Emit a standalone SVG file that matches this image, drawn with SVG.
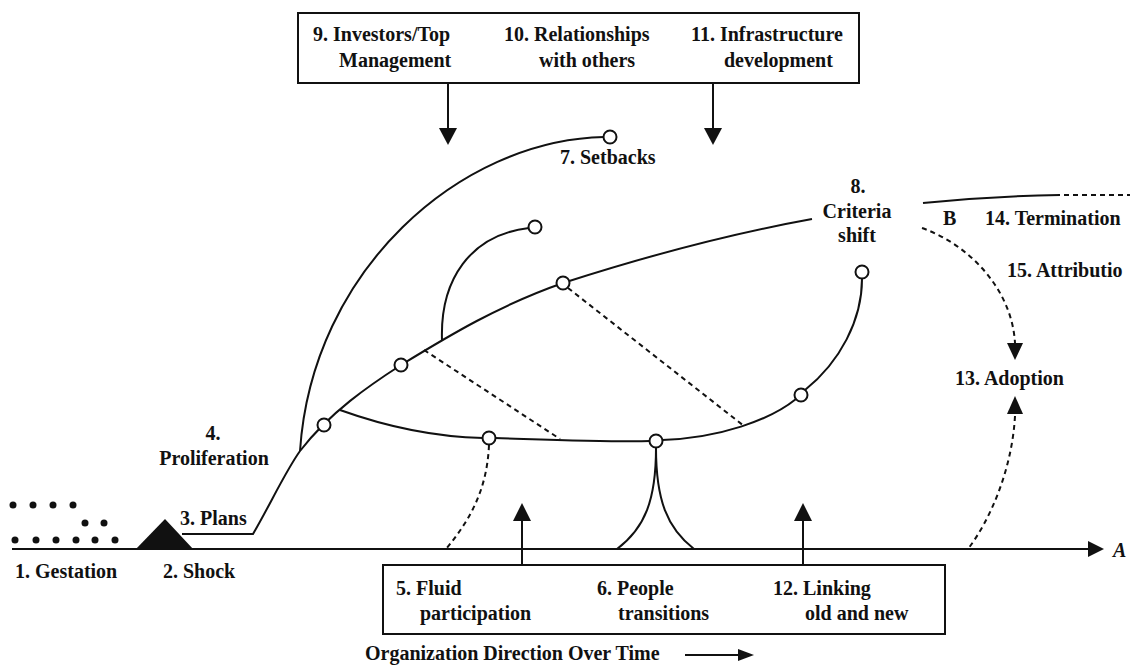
<svg xmlns="http://www.w3.org/2000/svg" width="1130" height="668" viewBox="0 0 1130 668">
<style>
text{font-family:"Liberation Serif","Times New Roman",serif;font-size:20px;font-weight:bold;fill:#111}
.ln{fill:none;stroke:#111;stroke-width:2}
.da{fill:none;stroke:#111;stroke-width:2;stroke-dasharray:5 4}
.ah{fill:#111;stroke:none}
.pt{fill:#fff;stroke:#111;stroke-width:2}
.box{fill:#fff;stroke:#111;stroke-width:2}
.dot{fill:#111}
.mid{text-anchor:middle}
</style>
<rect width="1130" height="668" fill="#fff"/>
<g id="connectors">
<path class="ln" d="M12,549 L1090,549"/>
<polygon class="ah" points="1088,541 1104,549 1088,557"/>
<path class="ln" d="M182,534 L253,534 C270,505 285,472 300,451 C330,412 370,385 401,365 C450,335 500,305 563,283 C650,255 740,232 812,219"/>
<path class="ln" d="M300,451 C312,270 460,140 604,137"/>
<path class="ln" d="M442,340 C440,280 470,235 529,228"/>
<path class="ln" d="M340,410 C390,428 440,437 483,438"/>
<path class="ln" d="M495,438 C560,440 610,442 650,441"/>
<path class="ln" d="M662,440 C720,438 770,420 796,399"/>
<path class="ln" d="M805,390 C840,362 862,320 862,279"/>
<path class="da" d="M424,350 L560,439"/>
<path class="da" d="M568,288 L744,426"/>
<path class="da" d="M489,445 C487,490 470,520 446,549"/>
<path class="ln" d="M656,448 C656,500 645,528 617,549"/>
<path class="ln" d="M656,448 C656,500 667,528 694,549"/>
<path class="ln" d="M448,83 L448,129"/>
<polygon class="ah" points="439,128 457,128 448,145"/>
<path class="ln" d="M713,83 L713,129"/>
<polygon class="ah" points="704,128 722,128 713,145"/>
<path class="ln" d="M522,565 L522,519"/>
<polygon class="ah" points="513,521 531,521 522,503"/>
<path class="ln" d="M803,565 L803,519"/>
<polygon class="ah" points="794,521 812,521 803,503"/>
<path class="ln" d="M923,203 Q990,196 1060,195"/>
<path class="da" d="M1064,195 L1130,195"/>
<path class="da" d="M922,228 C970,245 1012,290 1015,343"/>
<polygon class="ah" points="1007,343 1023,343 1015,360"/>
<polygon class="ah" points="1007,414 1023,414 1015,396"/>
<path class="da" d="M1015,416 C1012,470 990,520 968,549"/>
<path class="ln" d="M685,655 L740,655"/>
<polygon class="ah" points="738,649 754,655 738,661"/>
</g>
<g id="points">
<circle class="pt" cx="610" cy="137" r="6.5"/>
<circle class="pt" cx="535" cy="227" r="6.5"/>
<circle class="pt" cx="324" cy="425" r="6.5"/>
<circle class="pt" cx="401" cy="365" r="6.5"/>
<circle class="pt" cx="563" cy="283" r="6.5"/>
<circle class="pt" cx="489" cy="438" r="6.5"/>
<circle class="pt" cx="656" cy="441" r="6.5"/>
<circle class="pt" cx="801" cy="395" r="6.5"/>
<circle class="pt" cx="862" cy="272" r="6.5"/>
</g>
<g id="n1-gestation">
<circle class="dot" cx="13" cy="505" r="3.5"/><circle class="dot" cx="33" cy="505" r="3.5"/><circle class="dot" cx="53" cy="505" r="3.5"/><circle class="dot" cx="73" cy="505" r="3.5"/>
<circle class="dot" cx="85" cy="523" r="3.5"/><circle class="dot" cx="104" cy="523" r="3.5"/>
<circle class="dot" cx="15" cy="540" r="3.5"/><circle class="dot" cx="36" cy="540" r="3.5"/><circle class="dot" cx="56" cy="540" r="3.5"/><circle class="dot" cx="76" cy="540" r="3.5"/><circle class="dot" cx="95" cy="540" r="3.5"/><circle class="dot" cx="115" cy="540" r="3.5"/>
<text x="15" y="578">1. Gestation</text>
</g>
<g id="n2-shock">
<polygon class="ah" points="135,550 165,519 194,550"/>
<text x="163" y="578">2. Shock</text>
</g>
<g id="n3-plans"><text x="180" y="525">3. Plans</text></g>
<g id="n4-proliferation">
<text class="mid" x="213" y="440">4.</text>
<text class="mid" x="214" y="465">Proliferation</text>
</g>
<g id="n7-setbacks"><text x="560" y="164">7. Setbacks</text></g>
<g id="n8-criteria">
<text class="mid" x="858" y="193">8.</text>
<text class="mid" x="857" y="218">Criteria</text>
<text class="mid" x="857" y="242">shift</text>
</g>
<g id="top-box">
<rect class="box" x="298" y="13" width="561" height="70"/>
<text x="313" y="41">9. Investors/Top</text>
<text x="339" y="67">Management</text>
<text x="504" y="41">10. Relationships</text>
<text x="539" y="67">with others</text>
<text x="691" y="41">11. Infrastructure</text>
<text x="724" y="67">development</text>
</g>
<g id="bottom-box">
<rect class="box" x="383" y="565" width="562" height="69"/>
<text x="396" y="595">5. Fluid</text>
<text x="420" y="620">participation</text>
<text x="597" y="595">6. People</text>
<text x="618" y="620">transitions</text>
<text x="773" y="595">12. Linking</text>
<text x="805" y="620">old and new</text>
</g>
<g id="outcomes">
<text x="943" y="225">B</text>
<text x="985" y="225">14. Termination</text>
<text x="1007" y="277">15. Attributio</text>
<text x="955" y="385">13. Adoption</text>
<text x="1113" y="557" font-style="italic">A</text>
</g>
<g id="caption"><text x="365" y="660">Organization Direction Over Time</text></g>
</svg>
